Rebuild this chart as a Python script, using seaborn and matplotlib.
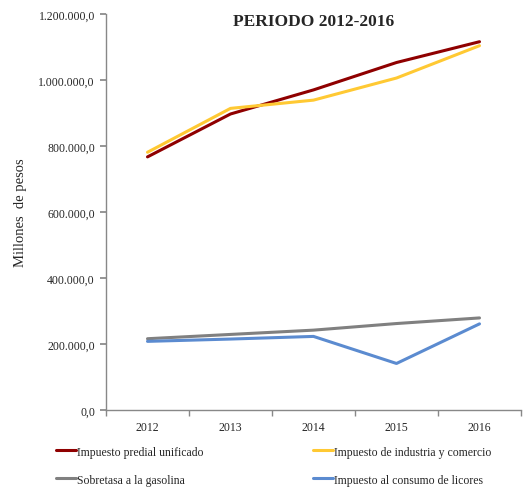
#!/usr/bin/env python3
"""
Recaudo por impuesto, periodo 2012-2016 (millones de pesos).
"""

import matplotlib
matplotlib.use("Agg")
import matplotlib.pyplot as plt
import matplotlib.ticker as mticker
import pandas as pd
import seaborn as sns

years = ["2012", "2013", "2014", "2015", "2016"]
predial = [767000, 897000, 970000, 1053000, 1116000]
industria = [781000, 914000, 939000, 1006000, 1104000]
gasolina = [216000, 229000, 242000, 262000, 279000]
licores = [208000, 215000, 223000, 141000, 261000]

series = {
    "Impuesto predial unificado": predial,
    "Sobretasa a la gasolina": gasolina,
    "Impuesto de industria y comercio": industria,
    "Impuesto al consumo de licores": licores,
}
colors = {
    "Impuesto predial unificado": "#8f0000",
    "Sobretasa a la gasolina": "#808080",
    "Impuesto de industria y comercio": "#ffc933",
    "Impuesto al consumo de licores": "#5b8bd0",
}


def es_format(v, _pos):
    s = f"{v:,.1f}"
    return s.replace(",", "X").replace(".", ",").replace("X", ".")


def main() -> None:
    rows = []
    for name, vals in series.items():
        for i, v in enumerate(vals):
            rows.append({"pos": i, "valor": v, "serie": name})
    df = pd.DataFrame(rows)

    sns.set_theme(style="white")
    plt.rcParams["font.family"] = ["Liberation Serif", "DejaVu Serif"]

    fig = plt.figure(figsize=(5.23, 4.89), dpi=100)
    ax = fig.add_axes([106 / 523, 78 / 489, 415 / 523, 396 / 489])

    sns.lineplot(
        ax=ax, data=df, x="pos", y="valor", hue="serie",
        palette=colors, hue_order=list(series.keys()),
        linewidth=2.2, legend=False,
    )

    ax.set_xlim(-0.5, 4.5)
    ax.set_ylim(0, 1200000)
    ax.set_yticks(range(0, 1200001, 200000))
    ax.yaxis.set_major_formatter(mticker.FuncFormatter(es_format))
    ax.set_xticks(range(5))
    ax.set_xticklabels(years)
    ax.set_xticks([i - 0.5 for i in range(6)], minor=True)
    ax.tick_params(axis="x", which="major", length=0, pad=8, labelsize=8.5)
    ax.tick_params(axis="x", which="minor", length=4, color="#888888",
                   direction="out", bottom=True)
    ax.tick_params(axis="y", length=4, color="#888888", direction="out",
                   left=True, labelsize=8.5, pad=4)
    for sp in ("top", "right"):
        ax.spines[sp].set_visible(False)
    for sp in ("left", "bottom"):
        ax.spines[sp].set_color("#888888")
        ax.spines[sp].set_linewidth(1.0)

    ax.set_xlabel("")
    ax.set_ylabel("Millones  de pesos", fontsize=10.5)
    ax.yaxis.set_label_coords(-0.19, 0.5)
    ax.set_title("PERIODO 2012-2016", fontsize=12.5, fontweight="bold",
                 y=1.0, pad=-8)

    handles = [
        plt.Line2D([], [], color=colors[name], linewidth=2.2)
        for name in series
    ]
    fig.legend(
        handles, list(series.keys()),
        loc="upper left", bbox_to_anchor=(45 / 523, 1 - 436 / 489),
        ncol=2, frameon=False, fontsize=8.5,
        handlelength=1.7, handletextpad=0.1,
        columnspacing=9.3, labelspacing=1.35,
    )

    fig.savefig("out.png", dpi=100)


if __name__ == "__main__":
    main()
